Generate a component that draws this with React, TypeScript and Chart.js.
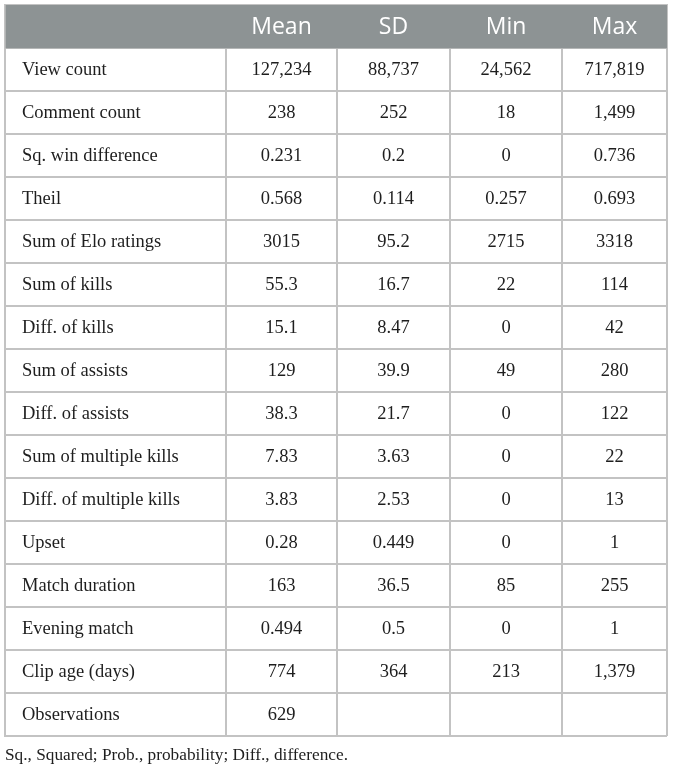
import React, { useEffect, useRef } from "react";
import { Chart, registerables } from "chart.js";

Chart.register(...registerables);

const columnHeaders = ["", "Mean", "SD", "Min", "Max"];
const rowLabels = [
  "View count",
  "Comment count",
  "Sq. win difference",
  "Theil",
  "Sum of Elo ratings",
  "Sum of kills",
  "Diff. of kills",
  "Sum of assists",
  "Diff. of assists",
  "Sum of multiple kills",
  "Diff. of multiple kills",
  "Upset",
  "Match duration",
  "Evening match",
  "Clip age (days)",
  "Observations",
];
const meanVals = ["127,234", "238", "0.231", "0.568", "3015", "55.3", "15.1", "129", "38.3", "7.83", "3.83", "0.28", "163", "0.494", "774", "629"];
const sdVals = ["88,737", "252", "0.2", "0.114", "95.2", "16.7", "8.47", "39.9", "21.7", "3.63", "2.53", "0.449", "36.5", "0.5", "364", ""];
const minVals = ["24,562", "18", "0", "0.257", "2715", "22", "0", "49", "0", "0", "0", "0", "85", "0", "213", ""];
const maxVals = ["717,819", "1,499", "0.736", "0.693", "3318", "114", "42", "280", "122", "22", "13", "1", "255", "1", "1,379", ""];
const footnote = "Sq., Squared; Prob., probability; Diff., difference.";

// layout constants (column boundaries along the x scale)
const COLUMN_EDGES = [0, 221, 332, 445, 557, 662];
const HEADER_BG = "#8d9394";
const GRID = "#c3c3c3";
const TEXT = "#1e1e1e";
const SERIF = "'Liberation Serif', 'DejaVu Serif', serif";
const SANS = "'Open Sans', 'Noto Sans', sans-serif";

export default function App() {
  const ref = useRef<HTMLCanvasElement | null>(null);

  useEffect(() => {
    if (!ref.current) return;
    const categories = ["header", ...rowLabels];
    const columns = [rowLabels, meanVals, sdVals, minVals, maxVals];

    const textPlugin = {
      id: "tableText",
      afterDraw(chart: any) {
        const { ctx, scales, chartArea } = chart;
        const xs = scales.x;
        const ys = scales.y;
        ctx.save();
        // header
        ctx.fillStyle = "#ffffff";
        ctx.font = `23px ${SANS}`;
        ctx.textAlign = "center";
        ctx.textBaseline = "middle";
        const yh = ys.getPixelForValue(0);
        for (let c = 1; c < columnHeaders.length; c++) {
          const xm = xs.getPixelForValue((COLUMN_EDGES[c] + COLUMN_EDGES[c + 1]) / 2);
          ctx.fillText(columnHeaders[c], xm, yh + 1);
        }
        // body
        ctx.fillStyle = TEXT;
        ctx.font = `18.5px ${SERIF}`;
        for (let r = 0; r < rowLabels.length; r++) {
          const y = ys.getPixelForValue(r + 1) + 1;
          ctx.textAlign = "left";
          ctx.fillText(rowLabels[r], xs.getPixelForValue(COLUMN_EDGES[0]) + 17, y);
          ctx.textAlign = "center";
          for (let c = 1; c < columns.length; c++) {
            const xm = xs.getPixelForValue((COLUMN_EDGES[c] + COLUMN_EDGES[c + 1]) / 2);
            ctx.fillText(columns[c][r], xm, y);
          }
        }
        // footnote
        ctx.textAlign = "left";
        ctx.font = `17.3px ${SERIF}`;
        ctx.fillText(footnote, chartArea.left, chartArea.bottom + 19);
        ctx.restore();
      },
    };

    const chart = new Chart(ref.current, {
      type: "bar",
      data: {
        labels: categories,
        datasets: [
          {
            data: categories.map((_, i) => (i === 0 ? [COLUMN_EDGES[0], COLUMN_EDGES[COLUMN_EDGES.length - 1]] : null)) as any,
            backgroundColor: HEADER_BG,
            borderWidth: 0,
            barPercentage: 1,
            categoryPercentage: 1,
          },
        ],
      },
      options: {
        indexAxis: "y",
        animation: false,
        responsive: false,
        devicePixelRatio: 1,
        layout: { padding: { left: 5, top: 5, right: 6, bottom: 34 } },
        plugins: { legend: { display: false }, tooltip: { enabled: false } },
        scales: {
          x: {
            type: "linear",
            position: "top",
            min: COLUMN_EDGES[0],
            max: COLUMN_EDGES[COLUMN_EDGES.length - 1],
            z: 1,
            afterBuildTicks: (scale: any) => {
              scale.ticks = COLUMN_EDGES.map((v) => ({ value: v }));
            },
            ticks: { display: false },
            grid: { color: GRID, lineWidth: 2, drawTicks: false },
            border: { display: true, color: GRID, width: 2 },
          },
          y: {
            type: "category",
            z: 1,
            offset: true,
            ticks: { display: false },
            grid: { color: GRID, lineWidth: 2, drawTicks: false, offset: true },
            border: { display: true, color: GRID, width: 2 },
          },
        },
      },
      plugins: [textPlugin],
    } as any);
    return () => chart.destroy();
  }, []);

  return (
    <div style={{ position: "absolute", left: 0, top: 0, width: 673, height: 770, background: "#fff" }}>
      <canvas ref={ref} width={673} height={770} style={{ display: "block" }} />
    </div>
  );
}
